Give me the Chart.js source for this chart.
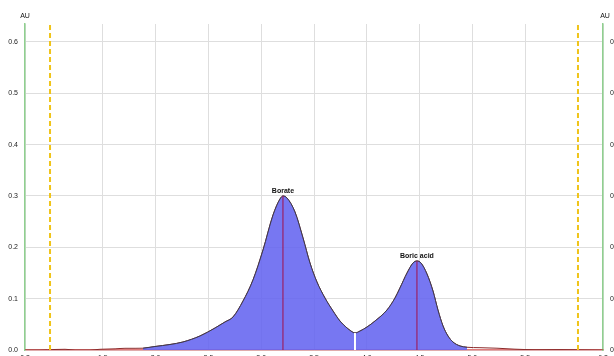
<!DOCTYPE html>
<html>
<head>
<meta charset="utf-8">
<script src="https://cdn.jsdelivr.net/npm/chart.js@4.4.1/dist/chart.umd.min.js"></script>
<style>
  html, body { margin: 0; padding: 0; background: #fff; overflow: hidden; }
  #wrap { position: absolute; left: 0; top: 0; width: 640px; height: 372px; }
</style>
</head>
<body>
<div id="wrap"><canvas id="c" width="640" height="372"></canvas></div>
<script>
// Electropherogram trace: migration time (min) and absorbance (AU)
const times = [0.763, 0.905, 1.047, 1.142, 1.237, 1.379, 1.473, 1.616, 1.710, 1.805,
  1.881, 1.994, 2.136, 2.259, 2.420, 2.563, 2.657, 2.733, 2.828, 2.922,
  3.017, 3.112, 3.178, 3.206, 3.244, 3.320, 3.396, 3.462, 3.528, 3.604,
  3.680, 3.746, 3.813, 3.850, 3.888, 3.936, 4.002, 4.078, 4.191, 4.267,
  4.314, 4.381, 4.438, 4.475, 4.513, 4.570, 4.627, 4.674, 4.722, 4.769,
  4.816, 4.883, 4.949, 5.072, 5.233, 5.403, 5.593, 5.830, 6.019, 6.237];
const absorbance = [0.0000, 0.0000, 0.0010, 0.0014, 0.0000, 0.0000, 0.0014, 0.0023, 0.0033, 0.0033,
  0.0035, 0.0068, 0.0107, 0.0156, 0.0273, 0.0429, 0.0546, 0.0643, 0.0955, 0.1364,
  0.1948, 0.2630, 0.2942, 0.3000, 0.2961, 0.2688, 0.2182, 0.1695, 0.1325, 0.1013,
  0.0760, 0.0565, 0.0429, 0.0370, 0.0331, 0.0370, 0.0448, 0.0565, 0.0779, 0.1013,
  0.1208, 0.1500, 0.1695, 0.1734, 0.1695, 0.1481, 0.1149, 0.0779, 0.0468, 0.0273,
  0.0156, 0.0078, 0.0053, 0.0045, 0.0035, 0.0016, 0.0006, 0.0008, 0.0004, 0.0000];

// Integrated peaks
const peakNames = ['Borate', 'Boric acid'];
const peakTimes = [3.206, 4.475];
const peakHeights = [0.3000, 0.1734];
const integrationStart = 1.881;
const integrationEnd = 4.949;
const valleyTime = 3.888;
const valleyHeight = 0.0331;

// Evaluation window markers
const windowStart = 1.0;
const windowEnd = 6.0;

// Axis setup
const xMin = 0.763, xMax = 6.237, xStep = 0.5;
const yMin = 0, yMax = 0.635, yStep = 0.1;
const yUnit = 'AU';

const trace = times.map((t, i) => ({ x: t, y: absorbance[i] }));
const integrated = trace.filter(p => p.x >= integrationStart && p.x <= integrationEnd);

const vline = (x, y0, y1) => [{ x: x, y: y0 }, { x: x, y: y1 }];

const datasets = [
  {
    label: 'signal', data: trace, borderColor: '#8a2a2a', borderWidth: 1,
    pointRadius: 0, fill: false, cubicInterpolationMode: 'monotone', order: 5
  },
  {
    label: 'integrated', data: integrated, borderColor: '#3a3a4a', borderWidth: 1,
    backgroundColor: 'rgba(100,100,240,0.88)', pointRadius: 0, fill: 'origin',
    cubicInterpolationMode: 'monotone', order: 4
  },
  {
    label: 'split', data: vline(valleyTime, 0, valleyHeight), borderColor: '#ffffff',
    borderWidth: 2, pointRadius: 0, fill: false, order: 3
  },
  ...peakTimes.map((t, i) => ({
    label: peakNames[i], data: vline(t, 0, peakHeights[i]), borderColor: '#a0104a',
    borderWidth: 1, pointRadius: 0, fill: false, order: 2
  })),
  ...[windowStart, windowEnd].map(t => ({
    label: 'window', data: vline(t, yMin, yMax), borderColor: '#f0c419',
    borderWidth: 2, borderDash: [5, 3], pointRadius: 0, fill: false, order: 1
  }))
];

// Peak names above the apexes and unit captions above both y axes
const annotate = {
  id: 'annotate',
  afterDatasetsDraw(chart) {
    const { ctx, scales } = chart;
    const x = scales.x, y = scales.y;
    ctx.save();
    ctx.fillStyle = '#111';
    ctx.textAlign = 'center';
    ctx.textBaseline = 'bottom';
    ctx.font = 'bold 7px "Liberation Sans", Arial, sans-serif';
    peakNames.forEach((name, i) => {
      ctx.fillText(name, x.getPixelForValue(peakTimes[i]), y.getPixelForValue(peakHeights[i]) - 1);
    });
    ctx.font = '7px "Liberation Sans", Arial, sans-serif';
    ctx.textBaseline = 'middle';
    ctx.fillText(yUnit, chart.chartArea.left, 16);
    ctx.fillText(yUnit, chart.chartArea.right + 2, 16);
    ctx.restore();
  }
};

const tickFont = { family: '"Liberation Sans", Arial, sans-serif', size: 7 };
const yAxis = (pos, width) => ({
  type: 'linear', position: pos, min: yMin, max: yMax,
  afterFit(s) { s.width = width; },
  grid: { display: pos === 'left', color: '#dedede', drawTicks: false },
  border: { color: '#8fd08f', width: 1.5 },
  ticks: {
    stepSize: yStep, includeBounds: false, color: '#222', font: tickFont,
    padding: pos === 'left' ? 7 : 7,
    callback: v => v.toFixed(1)
  }
});

new Chart(document.getElementById('c'), {
  type: 'line',
  data: { datasets },
  options: {
    responsive: false,
    animation: false,
    layout: { padding: { top: 24, left: 0, right: 0, bottom: 0 } },
    plugins: { legend: { display: false }, tooltip: { enabled: false } },
    scales: {
      x: {
        type: 'linear', min: xMin, max: xMax,
        afterFit(s) { s.height = 22; },
        grid: { color: '#dedede', drawTicks: false },
        border: { color: '#e07a7a', width: 1.5 },
        ticks: { stepSize: xStep, color: '#222', font: tickFont, padding: 4,
          maxRotation: 0, callback: v => v.toFixed(1) }
      },
      y: yAxis('left', 25),
      y2: yAxis('right', 37)
    }
  },
  plugins: [annotate]
});
</script>
</body>
</html>
